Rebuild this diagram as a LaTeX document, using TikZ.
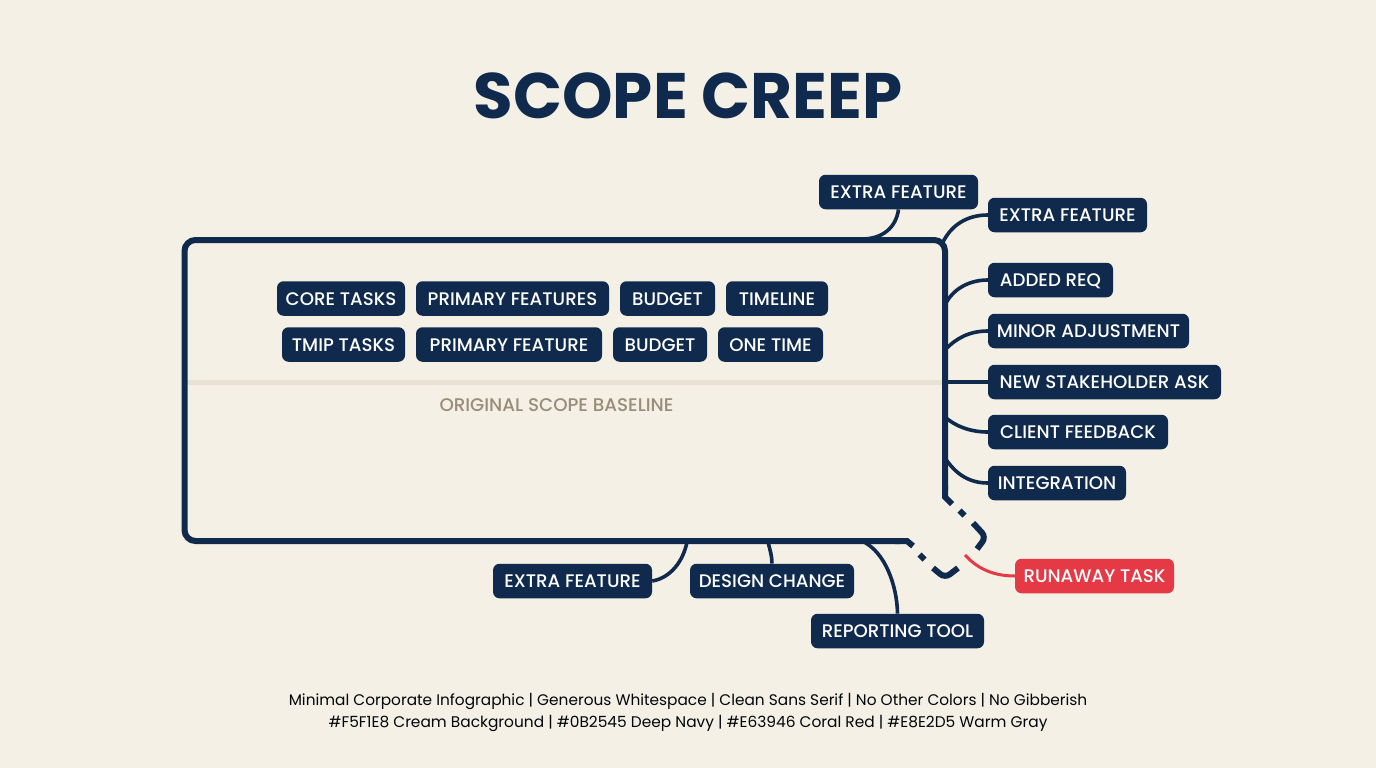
\documentclass[tikz,border=0pt]{standalone}
\usepackage{fontspec}
\setmainfont{Poppins}
\newfontfamily\medfont{Poppins Medium}
\definecolor{navy}{HTML}{0F2A4C}
\definecolor{cream}{HTML}{F4F0E6}
\definecolor{coral}{HTML}{E63946}
\definecolor{warmgray}{HTML}{E8E2D5}
\definecolor{taupe}{HTML}{9A8D78}
\tikzset{
  tag/.style={fill=navy,rounded corners=6.5pt,text=white,inner sep=0pt,minimum height=34.5pt,
    font=\medfont\fontsize{18.2}{20}\selectfont,anchor=center,text height=13pt,text depth=0pt},
  redtag/.style={tag,fill=coral},
  frameline/.style={draw=navy,line width=6pt},
  branch/.style={draw=navy,line width=3.6pt},
  redbranch/.style={draw=coral,line width=3pt}
}
\begin{document}
\begin{tikzpicture}[x=1pt,y=-1pt]
\useasboundingbox (0,0) rectangle (1376,768);
\fill[cream] (0,0) rectangle (1376,768);
\node[font=\fontsize{64.3}{66}\selectfont\bfseries,text=navy] (title) at (688,96) {SCOPE CREEP};
% frame
\draw[warmgray,line width=4.5pt] (187,382.5) -- (945,382.5);
\draw[frameline,rounded corners=11pt] (945,490) -- (945,240) -- (184.5,240) -- (184.5,541) -- (900,541);
\draw[frameline] (945,485) -- (945,497) -- (952,504);
\draw[frameline] (895,541) -- (907,541) -- (913,546);
\draw[frameline] (959.5,510.5) -- (964.5,515.5);
\draw[frameline] (919.5,554.5) -- (924.5,559.5);
\draw[frameline,rounded corners=6pt] (973,523) -- (986,537) -- (977,549);
\draw[frameline,rounded corners=6pt] (933,568) -- (945,578) -- (958,568);
% coordinates on the frame
\coordinate (jef1) at (862,239);
\coordinate (jef2) at (943,242);
\coordinate (jadd) at (945,305);
\coordinate (jmin) at (945,350);
\coordinate (jnew) at (945,382);
\coordinate (jcli) at (945,417);
\coordinate (jint) at (945,458);
\coordinate (jrun) at (965,555);
\coordinate (jrep) at (864,542);
\coordinate (jefb) at (687,542);
\coordinate (jdes) at (768,542);
% inner tags
\node[tag,minimum width=128pt] (a1) at (341,298.5) {CORE TASKS};
\node[tag,minimum width=193pt] (a2) at (512.5,298.5) {PRIMARY FEATURES};
\node[tag,minimum width=95pt] (a3) at (667.5,298.5) {BUDGET};
\node[tag,minimum width=102pt] (a4) at (777,298.5) {TIMELINE};
\node[tag,minimum width=123pt] (b1) at (343.5,344.5) {TMIP TASKS};
\node[tag,minimum width=186pt] (b2) at (509,344.5) {PRIMARY FEATURE};
\node[tag,minimum width=94pt] (b3) at (660,344.5) {BUDGET};
\node[tag,minimum width=105pt] (b4) at (770.5,344.5) {ONE TIME};
\node[font=\medfont\fontsize{18.3}{20}\selectfont,text=taupe] (base) at (556.5,405) {ORIGINAL SCOPE BASELINE};
% outer tags
\node[tag,minimum width=159pt] (ef1) at (898.5,192) {EXTRA FEATURE};
\node[tag,minimum width=159pt] (ef2) at (1067.5,215) {EXTRA FEATURE};
\node[tag,minimum width=125pt] (add) at (1050.5,280) {ADDED REQ};
\node[tag,minimum width=201pt] (min) at (1088.5,331) {MINOR ADJUSTMENT};
\node[tag,minimum width=233pt] (new) at (1104.5,382) {NEW STAKEHOLDER ASK};
\node[tag,minimum width=180pt] (cli) at (1078,432) {CLIENT FEEDBACK};
\node[tag,minimum width=138pt] (int) at (1057,483) {INTEGRATION};
\node[redtag,minimum width=159pt] (run) at (1094.5,576) {RUNAWAY TASK};
\node[tag,minimum width=173pt] (rep) at (897.5,631) {REPORTING TOOL};
\node[tag,minimum width=159pt] (efb) at (572.5,581) {EXTRA FEATURE};
\node[tag,minimum width=164pt] (des) at (772,581) {DESIGN CHANGE};
% connectors
\draw[branch] (ef1.south) .. controls (896,228) and (882,239) .. (jef1);
\draw[branch] (ef2.west) .. controls (966,215) and (951,226) .. (jef2);
\draw[branch] (add.west) .. controls (968,280) and (952,290) .. (jadd);
\draw[branch] (min.west) .. controls (970,331) and (956,338) .. (jmin);
\draw[branch] (new.west) -- (jnew);
\draw[branch] (cli.west) .. controls (970,432) and (955,426) .. (jcli);
\draw[branch] (int.west) .. controls (968,483) and (955,473) .. (jint);
\draw[redbranch] (run.west) .. controls (990,576) and (975,566) .. (jrun);
\draw[branch] (rep.north) .. controls (897,585) and (885,553) .. (jrep);
\draw[branch] (efb.east) .. controls (670,578) and (683,562) .. (jefb);
\draw[branch] (des.north) .. controls (772,556) and (770,550) .. (jdes);
% footer
\node[font=\fontsize{15.35}{18}\selectfont,text=black!85!navy] (f1) at (688,701) {Minimal Corporate Infographic | Generous Whitespace | Clean Sans Serif | No Other Colors | No Gibberish};
\node[font=\fontsize{15.4}{18}\selectfont,text=black!85!navy] (f2) at (688,723) {\#F5F1E8 Cream Background | \#0B2545 Deep Navy | \#E63946 Coral Red | \#E8E2D5 Warm Gray};
\end{tikzpicture}
\end{document}
